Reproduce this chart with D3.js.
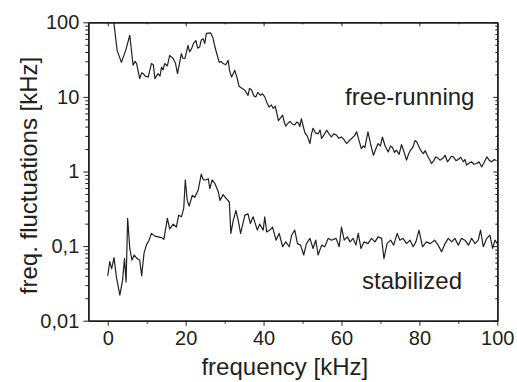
<!DOCTYPE html>
<html>
<head>
<meta charset="utf-8">
<script src="https://cdn.jsdelivr.net/npm/d3@7"></script>
<style>
  html, body { margin: 0; padding: 0; background: #fff; }
  svg { display: block; font-family: "Liberation Sans", Arial, Helvetica, sans-serif; }
  .axis text { font-size: 20px; fill: #231f20; }
  .axis path, .axis line { stroke: #231f20; }
</style>
</head>
<body>
<div id="chart"></div>
<script>
// ---- data ----
const freqFree = [1.5,2.4,3.5,4.6,5.65,6.5,7.0,7.4,8.2,8.7,9.1,9.6,10.4,11.2,11.7,12.1,12.9,13.4,13.8,14.2,14.6,15.3,15.9,16.8,17.4,17.9,18.9,19.3,19.8,20.6,21.0,21.5,22.0,22.6,23.1,23.6,24.0,24.5,24.9,25.3,26.4,27.0,27.5,28.6,29.1,29.6,30.3,30.9,31.3,31.8,32.6,33.2,33.7,34.5,35.2,36.0,36.4,36.9,37.5,38.0,38.5,39.2,39.7,40.3,40.8,41.4,42.0,42.5,43.0,43.8,44.3,44.9,45.3,45.7,46.2,46.8,47.4,48.0,48.5,48.9,49.3,49.7,50.1,50.6,51.2,51.9,52.3,52.7,53.3,54.0,54.5,54.9,55.5,56.2,56.8,57.4,58.0,58.7,59.3,60.0,60.6,61.3,62.0,62.6,63.3,63.9,64.5,65.1,65.6,66.0,66.8,67.5,68.2,68.8,69.4,70.0,70.5,71.2,72.0,72.6,73.1,73.6,74.1,74.8,75.4,76.1,76.7,77.2,77.7,78.3,78.9,79.3,79.7,80.4,81.0,81.5,82.0,82.6,83.1,83.7,84.2,84.8,85.3,86.0,86.6,87.2,87.7,88.2,88.7,89.4,90.0,90.6,91.3,91.7,92.1,92.8,93.4,94.0,94.7,95.3,96.0,96.7,97.3,98.0,98.6,99.2,99.8];
const valFree = [105,42,29,42,67,26.6,30,28,17.6,21,20.5,19,18.5,28,27,17.6,20.5,19,25,23,28,26,36,32.7,28,20.5,38,33,32.7,49,40,44,52,57,45,47,58,60,52,71,72,62,47,29,30,28,27,31,22,18.5,22.7,18,13.9,13,12.3,10.5,13,12.5,10.3,10,11.5,10.5,11,10,8.5,7.3,7.8,7,7.5,4.8,5.2,5.7,4.6,4.05,4.4,4.7,4.3,4.2,4.6,4.5,4.0,5.1,4.2,3.3,3.0,2.37,3.2,3.8,3.3,3.2,3.6,2.77,3.1,3.58,3.2,2.9,3.2,3.07,2.8,2.9,2.7,2.37,2.6,2.77,3.0,3.4,2.6,2.03,2.2,2.1,3.4,2.3,1.65,2.0,2.37,2.2,2.9,2.2,1.83,2.2,2.1,1.8,1.93,1.7,2.3,1.8,1.42,1.7,1.93,2.1,2.6,2.5,2.25,1.9,1.74,1.9,1.65,1.45,1.28,1.4,1.57,1.5,1.42,1.5,1.65,1.35,1.45,1.6,1.57,1.4,1.45,1.55,1.35,1.45,1.22,1.3,1.35,1.25,1.28,1.35,1.15,1.35,1.57,1.4,1.35,1.45,1.39];

const freqStab = [0,0.5,1.0,1.6,2.2,3.1,3.8,4.3,4.7,5.1,5.65,6.2,6.8,7.5,8.2,8.7,9.3,9.9,10.6,11.2,12.1,12.9,13.8,14.4,15.3,15.9,16.8,17.6,18.2,18.9,19.5,19.9,20.4,20.9,21.7,22.3,23.2,24.0,24.5,25.1,25.8,26.2,26.8,27.5,28.4,28.8,29.6,30.5,31.2,31.6,32.2,32.9,33.5,34.1,35.2,36.0,36.6,37.3,38.4,39.0,39.9,40.3,40.8,41.6,42.3,43.2,44.0,44.9,45.7,46.6,47.2,48.0,48.7,49.5,50.3,51.0,51.9,52.7,53.4,54.0,54.9,55.7,56.6,57.4,58.6,59.4,60.0,60.7,61.5,62.2,63.0,63.7,64.3,65.0,65.8,66.8,67.7,68.6,69.4,70.3,70.9,71.7,72.6,73.4,74.3,75.0,75.8,76.7,77.6,78.4,79.1,79.9,80.8,81.8,82.8,83.9,84.8,85.7,86.6,87.4,88.3,89.1,90.0,90.8,91.7,92.6,93.4,94.3,95.1,95.7,96.4,97.3,98.1,98.8,99.4,100];
const valStab = [0.04,0.062,0.05,0.07,0.039,0.022,0.035,0.068,0.033,0.235,0.093,0.065,0.076,0.068,0.065,0.04,0.08,0.103,0.12,0.148,0.136,0.133,0.13,0.123,0.235,0.17,0.197,0.18,0.26,0.247,0.32,0.77,0.41,0.343,0.48,0.45,0.56,0.92,0.78,0.77,0.8,0.59,0.77,0.69,0.53,0.41,0.49,0.43,0.39,0.148,0.22,0.30,0.22,0.148,0.26,0.27,0.2,0.247,0.164,0.197,0.164,0.247,0.155,0.164,0.18,0.12,0.148,0.098,0.114,0.098,0.14,0.164,0.108,0.103,0.076,0.108,0.127,0.093,0.12,0.076,0.103,0.098,0.127,0.12,0.127,0.098,0.18,0.12,0.133,0.114,0.127,0.103,0.148,0.093,0.114,0.108,0.127,0.114,0.133,0.127,0.068,0.108,0.12,0.103,0.148,0.12,0.127,0.108,0.12,0.098,0.114,0.164,0.098,0.114,0.108,0.12,0.103,0.084,0.108,0.127,0.114,0.127,0.103,0.127,0.12,0.103,0.127,0.108,0.12,0.164,0.098,0.127,0.14,0.093,0.12,0.108];

const xTicks = [0, 20, 40, 60, 80, 100];
const xMinor = [10, 30, 50, 70, 90];
const yTicks = [0.01, 0.1, 1, 10, 100];
const yTickLabels = ["0,01", "0,1", "1", "10", "100"];
const seriesNames = ["free-running", "stabilized"];

// ---- layout ----
const width = 517, height = 382;
const plot = { left: 88.3, right: 497.3, top: 22.3, bottom: 320.7 };

const svg = d3.select("#chart").append("svg")
  .attr("width", width)
  .attr("height", height);

const x = d3.scaleLinear().domain([-5, 100]).range([plot.left, plot.right]);
const y = d3.scaleLog().domain([0.01, 100]).range([plot.bottom, plot.top]);

// minor log ticks 2..9 in each decade
const yMinor = [];
yTicks.slice(0, -1).forEach(d => {
  for (let k = 2; k <= 9; k++) yMinor.push(d * k);
});

svg.append("clipPath").attr("id", "clip")
  .append("rect")
  .attr("x", plot.left).attr("y", plot.top)
  .attr("width", plot.right - plot.left)
  .attr("height", plot.bottom - plot.top);

// ---- axes ----
function styleAxis(g) {
  g.attr("class", "axis");
  g.select(".domain").attr("stroke-width", 1.5);
  g.selectAll(".tick line").attr("stroke-width", 1);
}

// bottom
svg.append("g")
  .attr("transform", `translate(0,${plot.bottom})`)
  .call(d3.axisBottom(x).tickValues(xTicks).tickSize(5).tickSizeOuter(0).tickPadding(5)
    .tickFormat(d3.format("d")))
  .call(styleAxis);
svg.append("g")
  .attr("transform", `translate(0,${plot.bottom})`)
  .call(d3.axisBottom(x).tickValues(xMinor).tickSize(3).tickSizeOuter(0).tickFormat(""))
  .call(styleAxis);

// top
svg.append("g")
  .attr("transform", `translate(0,${plot.top})`)
  .call(d3.axisTop(x).tickValues(xTicks).tickSize(-4).tickSizeOuter(0).tickFormat(""))
  .call(styleAxis);
svg.append("g")
  .attr("transform", `translate(0,${plot.top})`)
  .call(d3.axisTop(x).tickValues(xMinor).tickSize(-2).tickSizeOuter(0).tickFormat(""))
  .call(styleAxis);

// left
svg.append("g")
  .attr("transform", `translate(${plot.left},0)`)
  .call(d3.axisLeft(y).tickValues(yTicks).tickSize(5).tickSizeOuter(0).tickPadding(4)
    .tickFormat((d, i) => yTickLabels[i]))
  .call(styleAxis);
svg.append("g")
  .attr("transform", `translate(${plot.left},0)`)
  .call(d3.axisLeft(y).tickValues(yMinor).tickSize(3).tickSizeOuter(0).tickFormat(""))
  .call(styleAxis);

// right
svg.append("g")
  .attr("transform", `translate(${plot.right},0)`)
  .call(d3.axisRight(y).tickValues(yTicks).tickSize(-4).tickSizeOuter(0).tickFormat(""))
  .call(styleAxis);
svg.append("g")
  .attr("transform", `translate(${plot.right},0)`)
  .call(d3.axisRight(y).tickValues(yMinor).tickSize(-2).tickSizeOuter(0).tickFormat(""))
  .call(styleAxis);

// ---- lines ----
const line = d3.line()
  .x(d => x(d[0]))
  .y(d => y(d[1]));

const series = [
  d3.zip(freqFree, valFree),
  d3.zip(freqStab, valStab)
];

svg.append("g")
  .attr("clip-path", "url(#clip)")
  .selectAll("path")
  .data(series)
  .join("path")
  .attr("fill", "none")
  .attr("stroke", "#231f20")
  .attr("stroke-width", 1.2)
  .attr("stroke-linejoin", "round")
  .attr("d", line);

// ---- labels ----
svg.append("text")
  .attr("x", 345).attr("y", 105)
  .attr("font-size", 24)
  .attr("fill", "#231f20")
  .text(seriesNames[0]);

svg.append("text")
  .attr("x", 362).attr("y", 289)
  .attr("font-size", 24)
  .attr("fill", "#231f20")
  .text(seriesNames[1]);

svg.append("text")
  .attr("x", (plot.left + plot.right) / 2 - 8)
  .attr("y", 375)
  .attr("text-anchor", "middle")
  .attr("font-size", 24)
  .attr("fill", "#231f20")
  .text("frequency [kHz]");

svg.append("text")
  .attr("transform", `translate(37,${(plot.top + plot.bottom) / 2 + 4}) rotate(-90)`)
  .attr("text-anchor", "middle")
  .attr("font-size", 24)
  .attr("fill", "#231f20")
  .text("freq. fluctuations [kHz]");
</script>
</body>
</html>
